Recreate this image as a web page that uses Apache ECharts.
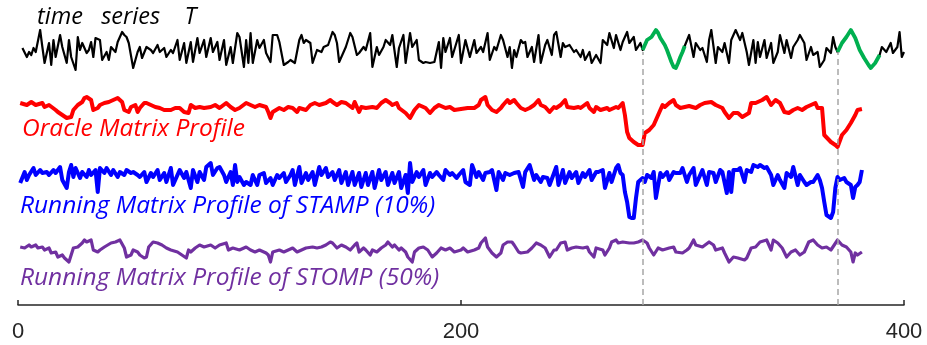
<!DOCTYPE html>
<html>
<head>
<meta charset="utf-8">
<title>running matrix profile</title>
<script src="https://cdn.jsdelivr.net/npm/echarts@6/dist/echarts.min.js"></script>
<style>
html, body { margin:0; padding:0; background:#fff; }
#chart { width:927px; height:345px; }
</style>
</head>
<body>
<div id="chart"></div>
<script>
// time series T (index / value)
var tIdx = [2,4,5,6,7,8,10,11,12,14,15,16,17,19,20,22,23,24,26,27,28,29,31,32,33,34,35,37,38,40,41,42,44,45,47,48,49,50,52,54,55,56,58,60,61,63,64,66,67,69,70,72,73,75,76,78,79,81,82,84,85,87,88,90,91,93,94,96,97,99,
    100,102,103,104,105,106,108,109,111,112,114,115,117,118,120,122,123,125,127,128,129,130,132,133,135,137,138,140,142,143,144,145,147,148,150,151,153,154,156,157,159,160,162,163,165,166,168,169,171,172,174,175,177,178,180,181,183,184,186,188,190,191,192,193,195,196,199,
    200,202,204,206,207,209,210,212,213,215,216,218,219,221,222,223,224,225,227,228,229,230,232,233,235,236,238,239,241,242,243,245,246,247,249,251,252,254,255,256,258,259,261,263,264,266,267,269,270,272,273,275,276,278,279,281,282,
    283,284,286,288,289,290,292,293,295,296,297,298,299,300,301,
    303,305,306,308,309,311,312,313,315,316,318,319,321,322,324,326,327,329,330,332,333,334,335,337,338,340,341,343,344,346,347,349,350,352,353,355,356,358,359,361,362,364,365,367,368,369,370,
    372,374,376,378,380,382,384,385,387,389,390,392,394,395,397,398,399,400];
var tVal = [22,13,18,15,22,18,40,23,7,27,5,30,13,35,23,7,30,13,0,33,20,27,17,20,28,13,32,30,10,18,10,23,18,28,38,35,33,27,2,18,23,12,23,20,17,25,18,22,13,20,17,30,10,27,7,28,8,32,17,30,13,32,18,28,10,30,5,23,7,37,
    33,3,30,7,37,7,30,22,30,17,8,35,35,28,5,8,10,7,30,35,27,30,27,7,20,18,23,25,38,35,27,8,18,23,37,33,15,17,23,20,37,3,23,15,23,30,25,35,3,22,35,7,37,23,30,10,7,8,7,8,28,2,32,18,32,13,35,
    7,30,13,30,17,23,18,37,10,23,20,35,30,13,23,2,20,13,30,27,28,13,23,8,35,7,25,30,15,35,38,13,27,23,25,18,20,13,20,10,18,7,15,7,30,25,37,22,35,20,28,38,27,33,20,27,20,
    25,30,33,40,37,32,25,20,8,3,2,7,13,18,24,
    35,13,27,20,22,8,30,40,7,23,18,27,7,30,40,30,37,18,5,30,7,28,13,30,12,27,7,18,35,17,30,12,23,30,35,27,10,23,15,18,3,10,22,17,33,23,18,
    27,33,40,32,20,12,5,2,7,15,23,18,27,17,23,38,13,18];

// motif starts and length
var motifStart = [282, 370];
var motifLen = 19;

// oracle matrix profile
var oracleIdx = [1,4,6,8,11,12,14,17,18,20,22,24,25,27,29,30,31,33,34,36,37,39,41,43,45,47,48,50,51,53,54,55,57,58,60,62,64,66,69,71,73,75,77,78,80,82,84,87,89,91,94,96,98,
    100,103,105,107,109,112,113,114,115,118,120,122,124,126,127,130,132,134,136,139,141,142,144,146,148,151,152,154,155,157,160,162,164,166,168,169,171,172,175,177,179,181,184,186,188,190,193,195,197,
    200,203,206,208,209,211,212,214,216,218,219,221,222,224,225,227,229,231,233,235,236,238,240,242,243,245,247,248,251,253,254,257,258,260,261,263,266,267,270,271,273,274,275,276,278,280,282,283,285,287,289,291,292,294,296,297,299,
    301,303,306,308,310,313,315,318,319,321,323,325,327,330,331,333,336,338,340,342,344,346,348,350,352,354,356,358,360,361,363,364,367,369,370,372,374,376,378,379,381];
var oracleVal = [47,45,48,45,47,43,45,40,38,35,32,33,40,45,48,52,53,50,40,42,45,47,48,50,52,48,40,38,43,45,38,42,47,47,45,43,42,40,40,42,42,38,37,45,42,43,42,43,45,42,47,43,40,
    42,47,45,43,45,43,38,32,38,42,40,43,42,38,42,40,45,47,45,47,50,48,45,48,47,42,48,38,43,42,43,42,47,50,47,45,47,42,37,32,40,45,42,37,42,45,42,43,40,
    41,42,42,45,50,53,45,40,38,42,45,50,47,50,47,42,40,42,45,50,45,43,38,43,42,45,50,43,42,43,42,47,42,38,43,40,42,40,43,42,47,35,18,12,8,5,5,17,20,25,35,45,43,47,50,45,42,
    43,44,42,45,47,48,45,42,38,32,37,37,33,37,47,47,50,53,45,50,47,38,37,40,42,40,43,45,47,42,42,15,8,5,3,15,20,27,35,40,41];

// running matrix profile, STAMP 10%
var stampIdx = [1,3,4,5,7,8,10,11,13,14,16,17,19,20,22,23,24,25,26,28,29,31,32,33,35,36,37,39,40,42,43,45,46,48,49,51,52,54,55,57,58,60,61,63,64,66,67,69,70,72,73,75,76,78,79,81,82,84,85,87,88,90,91,93,94,96,97,98,99,
    100,102,103,105,106,108,109,111,112,114,115,117,118,120,121,123,124,125,127,128,130,131,133,134,136,137,139,140,142,143,145,146,148,149,151,152,154,155,157,158,160,161,163,164,166,167,169,170,172,173,175,176,177,178,180,181,183,184,186,187,189,190,192,193,195,196,198,199,
    201,202,204,205,207,208,210,211,213,214,216,217,219,220,222,224,226,228,229,231,233,234,236,237,239,240,242,243,244,246,247,249,250,252,253,255,256,258,259,261,262,264,265,267,268,270,271,272,273,274,275,276,277,278,279,280,282,283,284,286,287,288,290,291,293,294,296,297,299,300,
    302,303,305,306,308,309,311,312,314,315,317,318,320,321,322,323,325,326,328,329,331,332,334,335,337,338,340,341,343,344,346,347,349,350,352,353,355,356,358,359,361,362,363,364,365,367,368,369,370,371,373,374,376,377,378,379,380,381];
var stampVal = [42,53,45,50,57,50,55,52,53,50,55,52,58,45,37,53,60,48,57,47,53,48,55,50,55,33,57,52,57,50,55,48,53,50,55,52,53,50,48,53,43,52,48,55,45,52,43,57,40,50,55,47,53,37,55,43,53,45,58,62,50,57,58,50,43,53,40,60,43,
    48,40,43,40,50,40,50,52,42,47,40,50,47,52,43,50,55,40,58,42,52,45,53,40,58,50,57,48,53,45,55,42,53,40,53,40,52,38,52,40,53,37,55,45,53,40,52,42,53,37,50,32,62,43,53,48,55,40,52,48,53,50,45,55,50,52,47,50,
    55,43,40,60,48,53,45,52,53,55,35,53,45,52,50,52,53,38,53,60,45,50,43,48,47,40,52,58,40,55,42,53,47,53,42,52,48,55,45,53,53,55,37,52,43,57,60,52,50,33,23,8,7,7,27,43,47,43,50,47,53,27,52,48,53,45,53,52,52,57,
    43,50,57,40,50,55,40,53,52,43,55,53,32,53,33,55,55,57,43,55,53,60,58,60,57,58,50,40,50,45,37,52,48,58,40,50,43,40,43,43,50,45,37,23,10,7,13,37,48,45,47,43,40,27,38,40,43,55];

// running matrix profile, STOMP 50%
var stompIdx = [1,3,5,6,8,9,11,12,14,15,17,18,20,21,23,24,25,27,29,30,31,33,34,36,37,39,42,44,46,48,49,51,52,54,55,57,58,59,61,63,65,67,69,72,74,76,77,78,80,82,84,87,89,91,94,95,97,
    100,103,105,107,109,112,113,114,115,118,120,122,124,126,128,130,133,135,137,139,141,142,144,146,148,150,152,153,154,156,157,159,160,162,164,166,167,169,170,172,173,175,176,178,179,181,183,185,187,189,191,193,195,197,
    200,201,203,206,208,209,211,212,214,216,218,219,221,223,224,226,227,230,232,234,236,238,240,242,243,245,247,248,250,252,255,257,258,260,261,264,265,267,268,270,271,273,276,278,280,282,284,285,287,289,291,294,296,297,
    300,302,303,305,306,309,312,314,315,318,319,321,323,325,328,329,331,333,335,338,340,341,343,345,347,349,351,353,355,357,359,361,363,365,367,370,372,374,376,377,378,379,381];
var stompVal = [23,22,25,23,25,22,23,20,22,17,18,13,15,12,8,15,22,23,27,30,28,30,20,18,20,23,27,28,30,22,13,15,20,18,15,12,13,23,28,27,25,22,20,18,15,12,20,18,22,25,23,25,22,25,27,20,22,
    20,23,20,18,20,17,15,8,18,20,18,20,22,18,20,22,23,22,23,25,28,27,22,25,23,20,25,27,18,22,20,15,20,18,22,25,28,23,25,20,22,18,13,8,18,22,23,20,13,17,22,20,22,18,
    20,22,18,20,22,27,32,23,17,13,17,25,28,28,25,18,17,18,22,27,25,22,13,20,20,27,28,20,22,23,22,23,18,13,22,20,15,22,28,30,27,28,27,27,28,30,27,22,15,22,20,22,23,18,
    17,20,22,30,25,23,28,25,20,22,17,8,13,12,10,12,22,23,28,30,20,30,27,22,13,18,20,15,18,28,30,25,22,23,20,30,25,23,18,8,17,15,18];

var xTicks = [0, 200, 400];

function pairs(xs, ys) {
    return xs.map(function (x, i) { return [x, ys[i]]; });
}

function chartset() {
    var chart = echarts.init(document.getElementById('chart'));
    var tData = pairs(tIdx, tVal);

    var lineBase = function (grid, data, color, width) {
        return {
            type: 'line',
            xAxisIndex: grid,
            yAxisIndex: grid,
            data: data,
            showSymbol: false,
            silent: true,
            lineStyle: { color: color, width: width, join: 'round' },
            z: 3
        };
    };

    var series = [
        // dashed motif markers
        {
            type: 'line',
            xAxisIndex: 4,
            yAxisIndex: 4,
            data: [],
            z: 1,
            markLine: {
                silent: true,
                symbol: ['none', 'none'],
                label: { show: false },
                lineStyle: { color: '#a6a6a6', width: 1.5, type: [6, 4] },
                data: motifStart.map(function (s) { return { xAxis: s }; })
            }
        },
        lineBase(0, tData, '#000000', 2.2),
        lineBase(1, pairs(oracleIdx, oracleVal), '#ff0000', 4),
        lineBase(2, pairs(stampIdx, stampVal), '#0000ff', 4),
        lineBase(3, pairs(stompIdx, stompVal), '#7030a0', 3.2)
    ];
    motifStart.forEach(function (s) {
        series.push(lineBase(0, tData.filter(function (p) {
            return p[0] >= s && p[0] <= s + motifLen;
        }), '#00b050', 3.8));
    });

    var tops = [30, 95, 160, 230, 52];
    var heights = [40, 55, 65, 40, 253];
    var ymax = [40, 55, 65, 40, 1];

    var label = function (txt, x, y, color, size) {
        return {
            type: 'text', x: x, y: y,
            style: { text: txt, fill: color, fontSize: size, fontStyle: 'italic', fontFamily: 'Open Sans', verticalAlign: 'middle' }
        };
    };

    chart.setOption({
        animation: false,
        grid: tops.map(function (t, i) {
            return { left: 18, right: 23, top: t, height: heights[i] };
        }),
        xAxis: tops.map(function (t, i) {
            return {
                gridIndex: i,
                type: 'value',
                min: xTicks[0],
                max: xTicks[xTicks.length - 1],
                interval: xTicks[1] - xTicks[0],
                show: i === 4,
                splitLine: { show: false },
                axisLine: { lineStyle: { color: '#262626', width: 1.5 } },
                axisTick: { inside: true, length: 5, lineStyle: { color: '#262626', width: 1.5 } },
                axisLabel: { fontSize: 22, color: '#262626', fontFamily: 'Liberation Sans', margin: 16 }
            };
        }),
        yAxis: tops.map(function (t, i) {
            return { gridIndex: i, type: 'value', min: 0, max: ymax[i], show: false };
        }),
        graphic: [
            label('time   series    T', 37, 17, '#000000', 23.5),
            label('Oracle Matrix Profile', 22, 129, '#ff0000', 24.5),
            label('Running Matrix Profile of STAMP (10%)', 20, 206, '#0000ff', 24.5),
            label('Running Matrix Profile of STOMP (50%)', 20, 278, '#7030a0', 24.5)
        ],
        series: series
    });
}

chartset();
</script>
</body>
</html>
